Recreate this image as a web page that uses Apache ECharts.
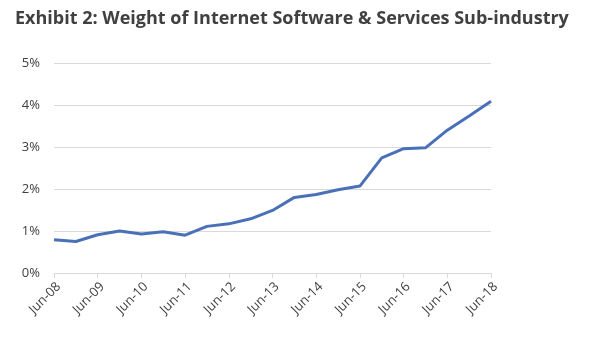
<!DOCTYPE html>
<html><head><meta charset="utf-8">
<script src="https://cdn.jsdelivr.net/npm/echarts@6/dist/echarts.min.js"></script>
<style>html,body{margin:0;padding:0;background:#fff}#c{width:599px;height:339px}</style>
</head><body><div id="c"></div>
<script>
const categories = ['Jun-08','Dec-08','Jun-09','Dec-09','Jun-10','Dec-10','Jun-11','Dec-11','Jun-12','Dec-12','Jun-13','Dec-13','Jun-14','Dec-14','Jun-15','Dec-15','Jun-16','Dec-16','Jun-17','Dec-17','Jun-18'];
const weights = [0.79,0.75,0.91,1.00,0.93,0.98,0.90,1.11,1.17,1.29,1.49,1.80,1.87,1.98,2.07,2.74,2.96,2.98,3.40,3.74,4.09];
const titleText = 'Exhibit 2: Weight of Internet Software & Services Sub-industry';
const chart = echarts.init(document.getElementById('c'));
chart.setOption({
  animation:false,
  title:{text:titleText,left:10,top:5,textStyle:{fontFamily:'Open Sans',fontWeight:'bold',fontSize:18,color:'#404040'}},
  grid:{left:54,right:108,top:63,bottom:66,containLabel:false},
  xAxis:{type:'category',data:categories,boundaryGap:false,
    axisLine:{lineStyle:{color:'#d9d9d9'}},
    axisTick:{interval:1,lineStyle:{color:'#d9d9d9'},length:5},
    axisLabel:{interval:1,rotate:45,color:'#404040',fontFamily:'Open Sans',fontSize:13,margin:7,verticalAlign:'top'}},
  yAxis:{type:'value',min:0,max:5,interval:1,
    axisLine:{show:false},axisTick:{show:false},
    splitLine:{lineStyle:{color:'#d9d9d9'}},
    axisLabel:{formatter:v=>v+'%',color:'#404040',fontFamily:'Open Sans',fontSize:13,margin:14}},
  series:[{type:'line',data:weights,showSymbol:false,lineStyle:{color:'#4a70b8',width:3}}]
});
</script></body></html>
